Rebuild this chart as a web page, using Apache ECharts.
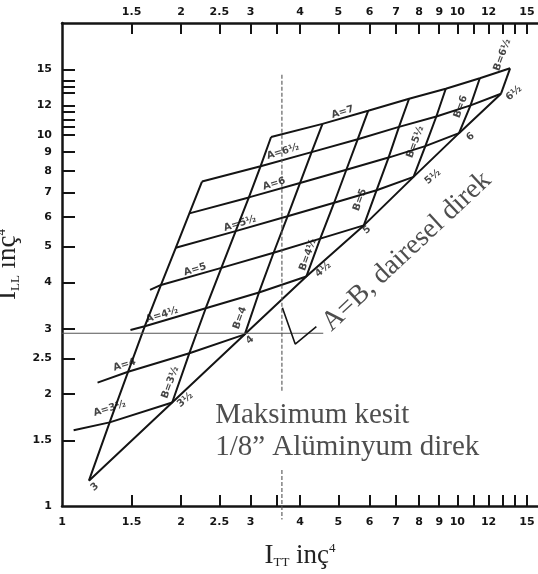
<!DOCTYPE html>
<html><head><meta charset="utf-8">
<script src="https://cdn.jsdelivr.net/npm/echarts@6/dist/echarts.min.js"></script>
<style>html,body{margin:0;padding:0;background:#fff}#c{width:538px;height:574px}</style>
</head><body><div id="c"></div>
<script>
// ---------- axes ----------
const X_MIN = 1, X_MAX = 16, Y_MIN = 1, Y_MAX = 20;
const X_TICKS = [1.5,2,2.5,3,3.5,4,5,6,7,8,9,10,11,12,13,14,15];
const X_LABELS_BOTTOM = ['1','1.5','2','2.5','3','4','5','6','7','8','9','10','12','15'];
const X_LABELS_TOP = ['1.5','2','2.5','3','4','5','6','7','8','9','10','12','15'];
const Y_TICKS = [1.5,2,2.5,3,4,5,6,7,8,9,10,10.5,11,11.5,12,13,13.5,14,15];
const Y_LABELS = ['1','1.5','2','2.5','3','4','5','6','7','8','9','10','12','15'];

// ---------- nomogram grid: I_TT / I_LL at B = 3, 3.5, 4 ... for each A ----------
const B_COLS = [3,3.5,4,4.5,5,5.5,6,6.5];
const A_ROWS = [3,3.5,4,4.5,5,5.5,6,6.5,7];
const ITT_A3   = [1.17];
const ILL_A3   = [1.17];
const ITT_A3_5 = [1.32,1.90];
const ILL_A3_5 = [1.68,1.90];
const ITT_A4   = [1.47,2.10,2.90];
const ILL_A4   = [2.30,2.58,2.90];
const ITT_A4_5 = [1.62,2.31,3.15,4.15];
const ILL_A4_5 = [3.05,3.41,3.76,4.15];
const ITT_A5   = [1.78,2.53,3.43,4.50,5.80];
const ILL_A5   = [3.94,4.38,4.81,5.25,5.70];
const ITT_A5_5 = [1.94,2.75,3.72,4.88,6.25,7.75];
const ILL_A5_5 = [4.96,5.50,6.03,6.56,7.09,7.70];
const ITT_A6   = [2.10,2.97,4.00,5.24,6.70,8.30,10.1];
const ILL_A6   = [6.14,6.78,7.41,8.05,8.68,9.32,10.1];
const ITT_A6_5 = [2.26,3.18,4.28,5.60,7.12,8.85,10.8,12.9];
const ILL_A6_5 = [7.48,8.23,8.98,9.73,10.5,11.2,12.0,12.9];
const ITT_A7   = [null,3.38,4.56,5.95,7.55,9.35,11.4,13.6];
const ILL_A7   = [null,9.86,10.7,11.6,12.5,13.3,14.2,15.1];
// short left extensions of the lowest A lines
const EXT_ITT = [1.07,1.23,1.49,1.67];
const EXT_ILL = [1.60,2.15,2.98,3.82];

// reference lines
const VLINE_X = 3.6;
const VLINE_Y1 = [14.5, 2.02];
const VLINE_Y2 = [1.25, 0.92];
const HLINE_Y = 2.92;
const HLINE_X = [0.97, 4.58];
const POINTER_X = [3.61, 3.89, 4.40];
const POINTER_Y = [3.42, 2.73, 3.04];

// labels
const A_LABELS = ['A=3½','A=4','A=4½','A=5','A=5½','A=6','A=6½','A=7'];
const A_LAB_X = [1.32,1.44,1.79,2.17,2.82,3.44,3.62,5.13];
const A_LAB_Y = [1.83,2.40,3.27,4.33,5.76,7.37,9.0,11.5];
const D_LABELS = ['3','3½','4','4½','5','5½','6','6½'];
const D_LAB_X = [1.21,2.05,2.99,4.58,5.91,8.67,10.8,13.9];
const D_LAB_Y = [1.125,1.93,2.80,4.33,5.54,7.70,9.88,12.95];
const B_LABELS = ['B=3½','B=4','B=4½','B=5','B=5½','B=6','B=6½'];
const B_LAB_X = [1.88,2.82,4.19,5.67,7.83,10.2,13.0];
const B_LAB_Y = [2.15,3.21,4.75,6.68,9.56,11.9,16.4];

const L = v => Math.log10(v);
const INK = '#141414';

const ITT_ROWS = [ITT_A3,ITT_A3_5,ITT_A4,ITT_A4_5,ITT_A5,ITT_A5_5,ITT_A6,ITT_A6_5,ITT_A7];
const ILL_ROWS = [ILL_A3,ILL_A3_5,ILL_A4,ILL_A4_5,ILL_A5,ILL_A5_5,ILL_A6,ILL_A6_5,ILL_A7];

const series = [];
const lineBase = (data, extra) => Object.assign({
  type: 'line', data, showSymbol: false, symbol: 'none', silent: true, clip: false,
  lineStyle: {color: INK, width: 2}, z: 3
}, extra || {});

// A lines
for (let r = 1; r < A_ROWS.length; r++) {
  const pts = [];
  if (r - 1 < EXT_ITT.length) pts.push([L(EXT_ITT[r-1]), L(EXT_ILL[r-1])]);
  ITT_ROWS[r].forEach((x, j) => { if (x != null) pts.push([L(x), L(ILL_ROWS[r][j])]); });
  series.push(lineBase(pts));
}
// B lines
for (let j = 0; j < B_COLS.length; j++) {
  const pts = [];
  for (let r = 0; r < A_ROWS.length; r++) {
    const x = ITT_ROWS[r][j];
    if (x != null && x !== undefined) pts.push([L(x), L(ILL_ROWS[r][j])]);
  }
  series.push(lineBase(pts));
}
// A = B line
const diag = [];
for (let r = 0; r < A_ROWS.length; r++) {
  const j = B_COLS.indexOf(A_ROWS[r]);
  if (j >= 0 && ITT_ROWS[r][j] != null) diag.push([L(ITT_ROWS[r][j]), L(ILL_ROWS[r][j])]);
}
series.push(lineBase(diag));

// reference lines
const refStyle = {color: '#555', width: 1.1};
series.push(lineBase(VLINE_Y1.map(y => [L(VLINE_X), L(y)]), {lineStyle: Object.assign({type:[4,2]}, refStyle)}));
series.push(lineBase(VLINE_Y2.map(y => [L(VLINE_X), L(y)]), {lineStyle: Object.assign({type:[4,2]}, refStyle)}));
series.push(lineBase(HLINE_X.map(x => [L(x), L(HLINE_Y)]), {lineStyle: refStyle}));
series.push(lineBase(POINTER_X.map((x, i) => [L(x), L(POINTER_Y[i])]), {lineStyle: {color: INK, width: 1.6}}));

// text labels
function textSeries(texts, xs, ys, label) {
  return {
    type: 'scatter', silent: true, symbolSize: 0, z: 5, clip: false,
    data: texts.map((t, i) => ({name: t, value: [L(xs[i]), L(ys[i])]})),
    label: Object.assign({show: true, position: 'inside', formatter: '{b}', color: INK}, label)
  };
}
const handFont = {fontFamily: 'DejaVu Sans', fontWeight: 'bold', fontSize: 10};
series.push(textSeries(A_LABELS, A_LAB_X, A_LAB_Y, Object.assign({rotate: 17}, handFont)));
series.push(textSeries(D_LABELS, D_LAB_X, D_LAB_Y, Object.assign({rotate: 40}, handFont)));
series.push(textSeries(B_LABELS, B_LAB_X, B_LAB_Y, Object.assign({rotate: 70, fontSize: 9}, handFont)));
series.push(textSeries(['A=B, dairesel direk'], [7.45], [4.85],
  {rotate: 43, fontFamily: 'Liberation Serif', fontSize: 28, color: '#222'}));
series.push(textSeries(['Maksimum kesit\n1/8” Alüminyum direk'], [2.44], [1.59],
  {position: 'right', distance: 0, align: 'left', fontFamily: 'Liberation Serif', fontSize: 29, lineHeight: 32, color: '#222'}));

function fmt(list) {
  return v => {
    let best = '', d = 1e9;
    list.forEach(s => { const dd = Math.abs(L(parseFloat(s)) - v); if (dd < d) { d = dd; best = s; } });
    return best;
  };
}
const tickLabelStyle = {color: INK, fontFamily: 'DejaVu Sans', fontWeight: 'bold', fontSize: 11};
const axisLineStyle = {show: true, lineStyle: {color: INK, width: 2.5}};

const nameRich = {
  i: {fontFamily: 'Liberation Serif', fontSize: 27, color: '#222'},
  s: {fontFamily: 'Liberation Serif', fontSize: 13, color: '#222', verticalAlign: 'bottom'},
  p: {fontFamily: 'Liberation Serif', fontSize: 13, color: '#222', verticalAlign: 'top'}
};

const chart = echarts.init(document.getElementById('c'), null, {renderer: 'canvas'});
chart.setOption({
  animation: false,
  backgroundColor: '#fff',
  grid: {left: 62, right: 0, top: 23, bottom: 68, containLabel: false, outerBoundsMode: 'none'},
  xAxis: [{
    type: 'value', position: 'bottom', min: L(X_MIN), max: L(X_MAX),
    axisLine: axisLineStyle,
    axisTick: {show: true, inside: true, length: 11, lineStyle: {color: INK, width: 2}, customValues: X_TICKS.map(L)},
    axisLabel: Object.assign({show: true, margin: 11, customValues: X_LABELS_BOTTOM.map(s => L(parseFloat(s))), formatter: fmt(X_LABELS_BOTTOM)}, tickLabelStyle),
    splitLine: {show: false},
    name: '{i|I}{s|TT}{i| inç}{p|4}', nameLocation: 'middle', nameGap: 36,
    nameTextStyle: {rich: nameRich}
  }, {
    type: 'value', position: 'top', min: L(X_MIN), max: L(X_MAX),
    axisLine: axisLineStyle,
    axisTick: {show: true, inside: true, length: 11, lineStyle: {color: INK, width: 2}, customValues: X_TICKS.map(L)},
    axisLabel: Object.assign({show: true, margin: 5, customValues: X_LABELS_TOP.map(s => L(parseFloat(s))), formatter: fmt(X_LABELS_TOP)}, tickLabelStyle),
    splitLine: {show: false}
  }],
  yAxis: [{
    type: 'value', position: 'left', min: L(Y_MIN), max: L(Y_MAX),
    axisLine: axisLineStyle,
    axisTick: {show: true, inside: true, length: 13, lineStyle: {color: INK, width: 2}, customValues: Y_TICKS.map(L)},
    axisLabel: Object.assign({show: true, margin: 10, customValues: Y_LABELS.map(s => L(parseFloat(s))), formatter: fmt(Y_LABELS)}, tickLabelStyle),
    splitLine: {show: false},
    name: '{i|I}{s|LL}{i| inç}{p|4}', nameLocation: 'middle', nameGap: 26, nameRotate: 90,
    nameTextStyle: {rich: nameRich}
  }],
  series
});
</script>
</body></html>
